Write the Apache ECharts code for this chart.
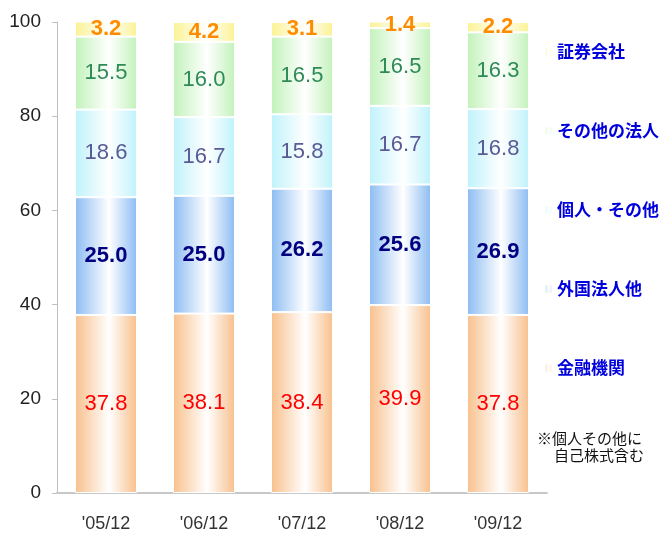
<!DOCTYPE html>
<html>
<head>
<meta charset="utf-8">
<script src="https://cdn.jsdelivr.net/npm/echarts@6/dist/echarts.min.js"></script>
<style>
  html, body { margin: 0; padding: 0; background: #fff; }
  #chart { width: 668px; height: 535px; }
</style>
</head>
<body>
<div id="chart"></div>
<script>
const categories = ["'05/12", "'06/12", "'07/12", "'08/12", "'09/12"]
const yTicks = [0, 20, 40, 60, 80, 100]

const kinyu = [37.8, 38.1, 38.4, 39.9, 37.8]     // 金融機関
const gaikoku = [25.0, 25.0, 26.2, 25.6, 26.9]   // 外国法人他
const kojin = [18.6, 16.7, 15.8, 16.7, 16.8]     // 個人・その他
const sonota = [15.5, 16.0, 16.5, 16.5, 16.3]    // その他の法人
const shoken = [3.2, 4.2, 3.1, 1.4, 2.2]         // 証券会社

const noteLines = ['※個人その他に', '自己株式含む']

const numFont = '"Liberation Sans", Arial, sans-serif'
const jpFont = '"Noto Sans CJK JP", sans-serif'

const grad = (edge) => new echarts.graphic.LinearGradient(0, 0, 1, 0, [
  { offset: 0, color: edge },
  { offset: 0.55, color: '#ffffff' },
  { offset: 1, color: edge }
])

const seriesDefs = [
  { name: '金融機関', data: kinyu, edge: '#f8c08c', label: '#ff0000', weight: 'normal' },
  { name: '外国法人他', data: gaikoku, edge: '#8cbcf2', label: '#000080', weight: 'bold' },
  { name: '個人・その他', data: kojin, edge: '#bff2fb', label: '#5a5a96', weight: 'normal' },
  { name: 'その他の法人', data: sonota, edge: '#c2f2ba', label: '#2e8b57', weight: 'normal' },
  { name: '証券会社', data: shoken, edge: '#fbf293', label: '#ff8c00', weight: 'bold' }
]

const chart = echarts.init(document.getElementById('chart'))

chart.setOption({
  animation: false,
  grid: { left: 57, right: 121, top: 22, bottom: 42 },
  legend: {
    orient: 'vertical',
    left: 539,
    top: 38,
    itemWidth: 7,
    itemHeight: 8,
    itemGap: 61,
    icon: 'rect',
    data: ['証券会社', 'その他の法人', '個人・その他', '外国法人他', '金融機関'],
    textStyle: {
      color: '#0000dd', fontSize: 17, fontWeight: 'bold',
      fontFamily: jpFont, lineHeight: 18, padding: [0, 0, 0, 0]
    },
    itemStyle: { opacity: 0.5 }
  },
  xAxis: {
    type: 'category',
    data: categories,
    axisLine: { show: true, lineStyle: { color: '#c8c8c8', width: 2 } },
    axisTick: { show: false },
    axisLabel: { color: '#333', fontSize: 18, fontFamily: numFont, margin: 22 }
  },
  yAxis: {
    type: 'value',
    min: yTicks[0],
    max: yTicks[yTicks.length - 1],
    interval: 20,
    axisLine: { show: true, lineStyle: { color: '#c0c0c0' } },
    axisTick: { show: true, inside: false, length: 5, lineStyle: { color: '#c0c0c0' } },
    splitLine: { show: false },
    axisLabel: { color: '#222', fontSize: 19, fontFamily: numFont, margin: 16 }
  },
  series: seriesDefs.map(s => ({
    name: s.name,
    type: 'bar',
    stack: 'total',
    data: s.data,
    barWidth: 62,
    clip: false,
    itemStyle: { color: grad(s.edge), borderColor: '#ffffff', borderWidth: 1 },
    label: {
      show: true,
      position: 'inside',
      color: s.label,
      fontSize: 22,
      fontWeight: s.weight,
      fontFamily: numFont,
      formatter: p => p.value.toFixed(1)
    }
  })),
  graphic: [
    {
      type: 'text', left: 537, top: 431,
      style: { text: noteLines[0], fill: '#111', font: '15px ' + jpFont }
    },
    {
      type: 'text', left: 554, top: 448,
      style: { text: noteLines[1], fill: '#111', font: '15px ' + jpFont }
    }
  ]
})
</script>
</body>
</html>
